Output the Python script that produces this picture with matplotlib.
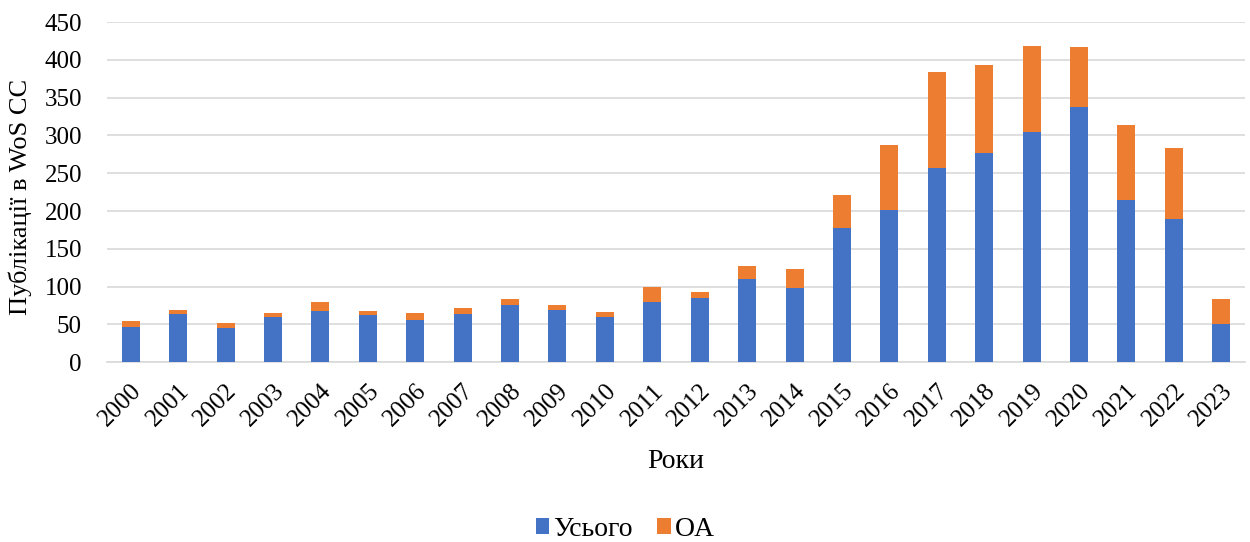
import matplotlib.pyplot as plt
import numpy as np

plt.rcParams['font.family'] = ['Liberation Serif', 'DejaVu Serif']

# years and values
years = [str(y) for y in range(2000, 2024)]
total_part = [46, 63, 45, 59, 68, 62, 56, 63, 76, 69, 59,
              80, 85, 110, 98, 178, 202, 257, 277, 305, 338, 214, 190, 50]
oa_part = [8, 6, 7, 6, 11, 5, 9, 9, 8, 7, 7,
           19, 8, 17, 25, 43, 85, 127, 117, 114, 79, 100, 93, 33]

blue = '#4472C4'
orange = '#ED7D31'

fig = plt.figure(figsize=(12.5, 5.42), dpi=100)
ax = fig.add_axes([0.0856, 0.332, 0.9104, 0.627])

x = np.arange(len(years))
ax.bar(x, total_part, width=0.38, color=blue, label='Усього', zorder=3)
ax.bar(x, oa_part, width=0.38, bottom=total_part, color=orange, label='OA', zorder=3)

ax.set_xlim(-0.5, len(years) - 0.5)
ax.set_ylim(0, 450)
ax.set_yticks(range(0, 451, 50))
ax.yaxis.grid(True, color='#d9d9d9', linewidth=1.2, zorder=0)

for s in ['top', 'right', 'left']:
    ax.spines[s].set_visible(False)
ax.spines['bottom'].set_color('#d9d9d9')
ax.spines['bottom'].set_linewidth(1.2)
ax.tick_params(axis='both', length=0, labelsize=18)
ax.tick_params(axis='y', pad=18)
ax.tick_params(axis='x', pad=13)

ax.set_xticks(x)
ax.set_xticklabels(years, rotation=45, ha='right', rotation_mode='anchor', fontsize=18)

ax.set_xlabel('Роки', fontsize=20)
ax.xaxis.set_label_coords(0.5, -0.255)
ax.set_ylabel('Публікації в WoS CC', fontsize=19)
ax.yaxis.set_label_coords(-0.066, 0.485)

fig.legend(loc='center', bbox_to_anchor=(0.5, 1 - 529 / 542), ncol=2, frameon=False,
           fontsize=20, handlelength=0.5, handleheight=0.5, columnspacing=0.9,
           handletextpad=0.12)

fig.savefig('out.png', dpi=100)
